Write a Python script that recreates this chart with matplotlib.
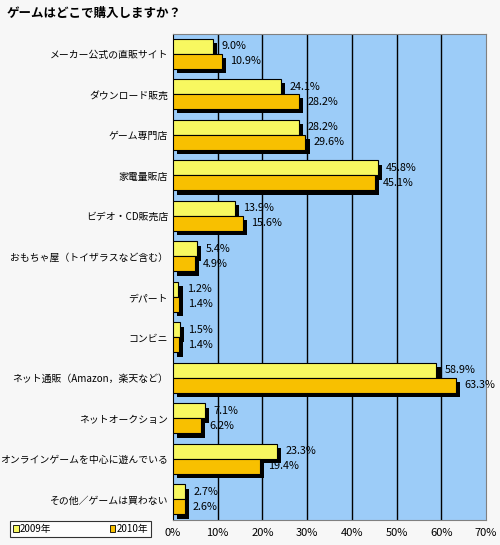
import numpy as np
import matplotlib
matplotlib.use("Agg")
import matplotlib.pyplot as plt
import matplotlib.patheffects as pe
from matplotlib.patches import Patch

plt.rcParams['font.family'] = ['Noto Sans CJK JP', 'DejaVu Sans']

# data
categories = [
    "メーカー公式の直販サイト",
    "ダウンロード販売",
    "ゲーム専門店",
    "家電量販店",
    "ビデオ・CD販売店",
    "おもちゃ屋（トイザラスなど含む）",
    "デパート",
    "コンビニ",
    "ネット通販（Amazon，楽天など）",
    "ネットオークション",
    "オンラインゲームを中心に遊んでいる",
    "その他／ゲームは買わない",
]
y2009 = [9.0, 24.1, 28.2, 45.8, 13.9, 5.4, 1.2, 1.5, 58.9, 7.1, 23.3, 2.7]
y2010 = [10.9, 28.2, 29.6, 45.1, 15.6, 4.9, 1.4, 1.4, 63.3, 6.2, 19.4, 2.6]
series_names = ["2009年", "2010年"]
xticks = [0, 10, 20, 30, 40, 50, 60, 70]

c_2009 = "#F8F860"
c_2010 = "#F8C000"
c_bg = "#F7F7F7"
c_plot = "#9CCCF8"

fig = plt.figure(figsize=(5.0, 5.45), dpi=100, facecolor=c_bg)
ax = fig.add_axes([0.346, 0.046, 0.626, 0.892])
ax.set_facecolor(c_plot)

idx = np.arange(len(categories))
bar_h = 15 / 40.5
shadow = [pe.SimplePatchShadow(offset=(3, -3), shadow_rgbFace="black", alpha=1.0), pe.Normal()]

b1 = ax.barh(idx + 0.309, y2009, height=bar_h, color=c_2009, edgecolor="black",
             linewidth=0.8, zorder=3)
b2 = ax.barh(idx + 0.679, y2010, height=bar_h, color=c_2010, edgecolor="black",
             linewidth=0.8, zorder=3)
for bars in (b1, b2):
    for p in bars:
        p.set_path_effects(shadow)

for i in idx:
    ax.annotate(f"{y2009[i]:.1f}%", (y2009[i], i + 0.309), xytext=(6, 0),
                textcoords="offset points", va="center", ha="left", fontsize=7.8, zorder=4)
    ax.annotate(f"{y2010[i]:.1f}%", (y2010[i], i + 0.679), xytext=(6, 0),
                textcoords="offset points", va="center", ha="left", fontsize=7.8, zorder=4)

ax.set_xlim(0, 70)
ax.set_ylim(len(categories), 0)
ax.set_xticks(xticks)
ax.set_xticklabels([f"{t}%" for t in xticks], fontsize=8)
ax.set_yticks(idx + 0.5)
ax.set_yticklabels(categories, fontsize=7.1)
ax.tick_params(axis="both", length=0)
ax.tick_params(axis="x", pad=6)
ax.tick_params(axis="y", pad=3.5)
for t in xticks[1:-1]:
    ax.axvline(t, color="black", linewidth=1.0, zorder=1)
for s in ("top", "right", "bottom"):
    ax.spines[s].set_color("#808080")
ax.spines["left"].set_color("black")

fig.text(0.014, 0.976, "ゲームはどこで購入しますか？", fontsize=9, fontweight="bold",
         ha="left", va="center")

handles = [Patch(facecolor=c_2009, edgecolor="black", linewidth=0.6),
           Patch(facecolor=c_2010, edgecolor="black", linewidth=0.6)]
leg = fig.legend(handles, series_names, loc="lower left", bbox_to_anchor=(0.02, 0.015),
                 ncol=2, fontsize=7, frameon=True, fancybox=False, handlelength=0.6,
                 handleheight=0.6, handletextpad=0.1, columnspacing=6.0,
                 borderpad=0.3, borderaxespad=0)
leg.get_frame().set_edgecolor("black")
leg.get_frame().set_facecolor("white")
leg.get_frame().set_linewidth(0.8)

fig.savefig("out.png", dpi=100, facecolor=c_bg)
